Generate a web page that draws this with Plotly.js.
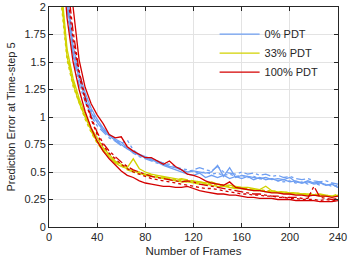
<!DOCTYPE html>
<html>
<head>
<meta charset="utf-8">
<script src="https://cdn.plot.ly/plotly-3.0.1.min.js"></script>
<style>html,body{margin:0;padding:0;background:#fff;}#chart{width:350px;height:263px;}</style>
</head>
<body>
<div id="chart"></div>
<script>
// Number of frames (x)
var frames = [10,15,20,25,30,35,40,45,50,55,60,65,70,75,80,85,90,95,100,105,110,115,120,125,130,135,140,145,150,155,160,165,170,175,180,185,190,195,200,205,210,215,220,225,230,235,240];

// 0% PDT (blue)
var blueA = [2.9,2.05,1.58,1.35,1.17,1.04,0.95,0.88,0.83,0.79,0.75,0.71,0.68,0.65,0.63,0.61,0.59,0.56,0.54,0.52,0.5,0.48,0.47,0.49,0.45,0.47,0.45,0.47,0.44,0.46,0.44,0.46,0.43,0.45,0.43,0.44,0.42,0.43,0.41,0.42,0.4,0.41,0.39,0.4,0.38,0.39,0.36];
var blueB = [3.0,2.15,1.65,1.4,1.22,1.08,0.98,0.9,0.84,0.8,0.77,0.72,0.69,0.66,0.64,0.62,0.6,0.58,0.55,0.54,0.52,0.5,0.51,0.5,0.49,0.5,0.56,0.46,0.54,0.45,0.47,0.46,0.45,0.44,0.45,0.43,0.44,0.43,0.45,0.41,0.4,0.42,0.4,0.41,0.38,0.39,0.36];
var blueC = [2.8,1.98,1.55,1.3,1.14,1.01,0.92,0.86,0.81,0.78,0.74,0.72,0.67,0.64,0.62,0.6,0.58,0.57,0.55,0.54,0.52,0.5,0.52,0.54,0.52,0.51,0.55,0.5,0.49,0.48,0.5,0.48,0.49,0.47,0.48,0.46,0.47,0.45,0.46,0.44,0.43,0.44,0.42,0.41,0.42,0.4,0.39];
var blueD = [2.95,2.1,1.6,1.37,1.2,1.06,0.96,0.89,0.83,0.79,0.76,0.79,0.7,0.66,0.63,0.61,0.6,0.58,0.57,0.55,0.53,0.52,0.5,0.49,0.5,0.48,0.49,0.47,0.48,0.46,0.47,0.45,0.46,0.44,0.43,0.44,0.42,0.41,0.42,0.4,0.41,0.39,0.4,0.38,0.39,0.37,0.38];

// 33% PDT (yellow)
var yelA = [2.1,1.55,1.3,1.13,1.0,0.88,0.78,0.7,0.64,0.58,0.55,0.53,0.51,0.49,0.47,0.46,0.45,0.44,0.43,0.42,0.41,0.41,0.4,0.39,0.39,0.38,0.37,0.37,0.36,0.35,0.35,0.34,0.33,0.33,0.32,0.32,0.31,0.31,0.3,0.3,0.3,0.29,0.29,0.28,0.28,0.28,0.28];
var yelB = [2.2,1.62,1.35,1.17,1.03,0.9,0.81,0.72,0.66,0.6,0.57,0.54,0.62,0.53,0.5,0.48,0.47,0.46,0.45,0.44,0.43,0.42,0.42,0.41,0.4,0.41,0.39,0.38,0.38,0.37,0.36,0.36,0.35,0.34,0.37,0.33,0.32,0.32,0.31,0.31,0.3,0.3,0.29,0.3,0.29,0.28,0.29];
var yelC = [2.15,1.58,1.32,1.15,1.01,0.87,0.77,0.69,0.63,0.59,0.56,0.52,0.5,0.48,0.48,0.47,0.46,0.45,0.44,0.43,0.44,0.43,0.42,0.41,0.4,0.39,0.39,0.38,0.37,0.36,0.36,0.35,0.34,0.33,0.33,0.32,0.32,0.31,0.31,0.3,0.3,0.29,0.29,0.29,0.28,0.28,0.3];
var yelD = [2.05,1.52,1.28,1.12,0.98,0.86,0.76,0.7,0.65,0.6,0.56,0.53,0.51,0.5,0.48,0.47,0.46,0.45,0.44,0.43,0.42,0.41,0.41,0.4,0.4,0.39,0.38,0.37,0.37,0.36,0.35,0.35,0.34,0.34,0.33,0.33,0.32,0.32,0.31,0.31,0.3,0.3,0.3,0.29,0.29,0.28,0.28];

// 100% PDT (red)
var redA = [3.5,2.6,2.0,1.52,1.27,1.12,1.02,0.94,0.84,0.81,0.82,0.73,0.69,0.66,0.63,0.63,0.6,0.57,0.6,0.55,0.52,0.48,0.47,0.45,0.42,0.4,0.39,0.38,0.41,0.36,0.35,0.34,0.33,0.33,0.32,0.31,0.31,0.3,0.3,0.29,0.29,0.28,0.29,0.28,0.28,0.27,0.28];
var redB = [2.6,1.9,1.5,1.25,1.05,0.9,0.78,0.69,0.62,0.56,0.51,0.47,0.45,0.42,0.4,0.39,0.38,0.37,0.37,0.36,0.36,0.37,0.35,0.33,0.32,0.31,0.3,0.3,0.29,0.29,0.28,0.27,0.27,0.26,0.26,0.26,0.25,0.25,0.25,0.24,0.24,0.24,0.24,0.23,0.23,0.23,0.24];
var redC = [3.0,2.25,1.78,1.42,1.18,1.0,0.86,0.76,0.69,0.64,0.59,0.55,0.52,0.5,0.48,0.46,0.45,0.44,0.43,0.42,0.41,0.42,0.41,0.39,0.38,0.37,0.36,0.35,0.34,0.33,0.32,0.31,0.3,0.3,0.29,0.28,0.28,0.27,0.27,0.27,0.26,0.26,0.37,0.27,0.26,0.25,0.26];
var redD = [2.9,2.15,1.7,1.38,1.15,0.98,0.84,0.74,0.67,0.62,0.57,0.53,0.5,0.48,0.46,0.44,0.43,0.42,0.41,0.4,0.39,0.38,0.37,0.36,0.35,0.35,0.34,0.33,0.32,0.31,0.3,0.3,0.29,0.29,0.28,0.28,0.27,0.27,0.26,0.26,0.25,0.25,0.25,0.24,0.25,0.24,0.24];

var seriesNames = ['0% PDT','33% PDT','100% PDT'];
var seriesColors = ['#6f9ff2','#d2d200','#d40000'];
var groups = [[blueA,blueB,blueC,blueD],[yelA,yelB,yelC,yelD],[redA,redB,redC,redD]];
var dashes = ['solid','solid','dashdot','dot'];

var traces = [];
groups.forEach(function(g, gi){
  g.forEach(function(vals, li){
    traces.push({
      x: frames, y: vals, type: 'scatter', mode: 'lines',
      name: seriesNames[gi],
      legendgroup: seriesNames[gi],
      showlegend: li === 0,
      line: {color: seriesColors[gi], width: 1.3, dash: dashes[li]},
      hoverinfo: 'skip'
    });
  });
});
var layout = {
  width: 350, height: 263,
  margin: {l: 49, r: 12, t: 7, b: 36},
  paper_bgcolor: '#ffffff', plot_bgcolor: '#ffffff',
  font: {family: 'Liberation Sans, Arial, sans-serif', size: 11, color: '#262626'},
  showlegend: true,
  legend: {x: 0.573, y: 0.943, xanchor: 'left', yanchor: 'top', bgcolor: 'rgba(0,0,0,0)',
           font: {size: 11, color: '#262626'}, tracegroupgap: 0, itemwidth: 40},
  xaxis: {
    range: [0, 240], tickvals: [0,40,80,120,160,200,240],
    ticks: 'inside', ticklen: 4, tickcolor: '#262626',
    showline: true, linecolor: '#262626', linewidth: 1, mirror: 'ticks',
    showgrid: true, gridcolor: '#e3e3e3', zeroline: false,
    title: {text: 'Number of Frames', font: {size: 11.5}, standoff: 4}
  },
  yaxis: {
    range: [0, 2], tickvals: [0,0.25,0.5,0.75,1,1.25,1.5,1.75,2],
    ticktext: ['0','0.25','0.5','0.75','1','1.25','1.5','1.75','2'],
    ticks: 'inside', ticklen: 4, tickcolor: '#262626',
    showline: true, linecolor: '#262626', linewidth: 1, mirror: 'ticks',
    showgrid: true, gridcolor: '#e3e3e3', zeroline: false,
    title: {text: 'Prediction Error at Time-step 5', font: {size: 11}, standoff: 6}
  }
};
Plotly.newPlot('chart', traces, layout, {staticPlot: true, displayModeBar: false});
</script>
</body>
</html>
